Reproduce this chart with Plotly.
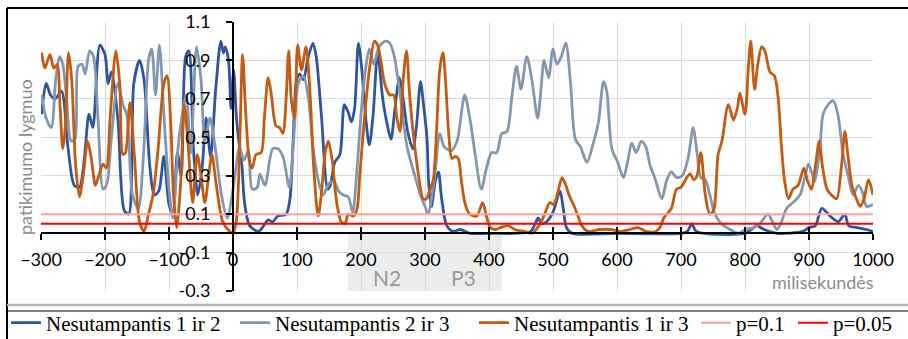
import plotly.graph_objects as go

# ---------------- data ----------------
series_names = ["Nesutampantis 1 ir 2", "Nesutampantis 2 ir 3", "Nesutampantis 1 ir 3"]
series_colors = ["#2F55A0", "#8497B0", "#C55A11"]

ms_12 = [-299, -292, -285, -278, -268, -258, -248, -240, -232, -225, -219, -208, -200, -195, -190,
         -180, -170, -163, -155, -146, -139, -130, -123, -116, -108, -100, -94, -87, -81, -74, -69,
         -62, -55, -48, -42, -35, -27, -19, -15, -12, -7, -3, 1, 5, 10, 14, 18, 26, 40, 48, 55, 62,
         70, 83, 89, 94, 99, 104, 110, 117, 125, 130, 138, 148, 152, 159, 167, 174, 180, 185, 190,
         196, 203, 208, 213, 219, 226, 234, 242, 247, 253, 260, 265, 273, 281, 287, 293, 298, 303,
         306, 310, 316, 321, 326, 334, 344, 355, 370, 400, 440, 465, 472, 477, 482, 490, 500, 511,
         516, 521, 530, 600, 700, 710, 717, 724, 800, 810, 818, 830, 850, 890, 900, 910, 920, 933,
         940, 946, 956, 962, 975, 990, 1000]
val_12 = [0.62, 0.78, 0.72, 0.70, 0.74, 0.45, 0.25, 0.24, 0.40, 0.62, 0.55, 0.98, 0.93, 0.78, 0.84,
          0.60, 0.12, 0.10, 0.78, 0.90, 0.80, 0.35, 0.20, 0.22, 0.40, 0.15, 0.10, 0.42, 0.30, 0.92, 0.95,
          0.45, 0.20, 0.35, 0.60, 0.40, 0.75, 1.00, 0.94, 0.97, 0.90, 0.65, 0.85, 0.62, 0.45, 0.35, 0.16,
          0.04, 0.01, 0.04, 0.07, 0.06, 0.09, 0.10, 0.18, 0.48, 0.79, 0.83, 0.80, 0.91, 0.99, 0.92, 0.62,
          0.23, 0.25, 0.37, 0.41, 0.67, 0.63, 0.58, 0.65, 0.99, 0.79, 0.58, 0.46, 0.62, 0.94, 0.70, 0.55,
          0.49, 0.65, 0.81, 0.72, 0.53, 0.44, 0.57, 0.79, 0.66, 0.50, 0.25, 0.14, 0.27, 0.32, 0.18, 0.04,
          0.01, 0.02, 0.0, 0.0, 0.0, 0.01, 0.05, 0.08, 0.05, 0.06, 0.11, 0.22, 0.13, 0.03, 0.0, 0.0, 0.0,
          0.01, 0.05, 0.01, 0.0, 0.02, 0.04, 0.02, 0.0, 0.01, 0.03, 0.04, 0.13, 0.09, 0.07, 0.06, 0.10,
          0.04, 0.03, 0.02, 0.01]

ms_23 = [-299, -292, -284, -277, -271, -266, -260, -253, -247, -242, -236, -231, -224, -218, -211,
         -203, -197, -190, -180, -172, -166, -157, -148, -140, -132, -127, -121, -115, -108, -100,
         -94, -86, -80, -73, -66, -57, -50, -44, -36, -28, -18, -9, 0, 5, 10, 17, 24, 30, 38, 42, 50,
         62, 70, 78, 88, 95, 102, 110, 118, 125, 133, 141, 150, 158, 165, 172, 180, 187, 193, 200,
         207, 213, 220, 228, 238, 245, 252, 262, 272, 284, 293, 300, 305, 311, 316, 323, 330, 341,
         350, 362, 370, 378, 388, 396, 404, 412, 420, 428, 436, 443, 450, 459, 467, 476, 482, 486,
         493, 500, 506, 513, 520, 527, 535, 543, 553, 563, 571, 579, 584, 592, 601, 610, 617, 623,
         630, 638, 645, 652, 659, 670, 678, 685, 693, 702, 711, 719, 725, 731, 738, 745, 753, 763,
         777, 790, 800, 813, 823, 836, 843, 850, 857, 865, 875, 886, 894, 899, 904, 909, 917, 922,
         930, 938, 945, 953, 961, 969, 977, 983, 990, 1000]
val_23 = [0.72, 0.60, 0.55, 0.80, 0.92, 0.88, 0.70, 0.48, 0.49, 0.87, 0.88, 0.83, 0.95, 0.92, 0.60,
          0.23, 0.26, 0.50, 0.78, 0.67, 0.62, 0.20, 0.13, 0.40, 0.90, 0.96, 0.72, 0.98, 0.62, 0.23,
          0.08, 0.44, 0.60, 0.72, 0.42, 0.97, 0.80, 0.48, 0.60, 0.45, 0.20, 0.08, 0.23, 0.35, 0.45, 0.38,
          0.43, 0.23, 0.24, 0.31, 0.25, 0.44, 0.44, 0.40, 0.24, 0.50, 0.78, 0.82, 0.70, 0.45, 0.28, 0.20,
          0.26, 0.27, 0.22, 0.20, 0.19, 0.11, 0.30, 0.62, 0.85, 0.96, 0.88, 0.97, 1.00, 0.99, 0.92, 0.70,
          0.45, 0.30, 0.20, 0.14, 0.10, 0.20, 0.32, 0.52, 0.45, 0.43, 0.48, 0.72, 0.60, 0.42, 0.23, 0.34,
          0.42, 0.42, 0.52, 0.53, 0.72, 0.87, 0.75, 0.92, 0.80, 0.60, 0.78, 0.90, 0.81, 0.96, 0.88, 0.92,
          0.99, 0.80, 0.49, 0.45, 0.37, 0.47, 0.58, 0.79, 0.74, 0.44, 0.37, 0.29, 0.38, 0.47, 0.42, 0.48,
          0.45, 0.35, 0.29, 0.18, 0.28, 0.32, 0.29, 0.30, 0.39, 0.55, 0.42, 0.29, 0.28, 0.20, 0.10, 0.05,
          0.02, 0.0, 0.02, 0.03, 0.05, 0.10, 0.06, 0.02, 0.06, 0.13, 0.16, 0.20, 0.30, 0.36, 0.32, 0.27,
          0.44, 0.62, 0.67, 0.69, 0.62, 0.42, 0.30, 0.20, 0.25, 0.22, 0.14, 0.15]

ms_13 = [-299, -294, -286, -280, -275, -270, -266, -262, -257, -252, -246, -240, -234, -227, -221,
         -215, -208, -203, -198, -192, -183, -177, -172, -168, -161, -154, -146, -139, -132, -125,
         -117, -108, -103, -97, -93, -88, -82, -76, -70, -63, -56, -50, -44, -38, -33, -26, -16, -5,
         0, 5, 10, 15, 20, 26, 30, 36, 44, 49, 55, 60, 67, 73, 78, 83, 87, 91, 96, 101, 107, 114, 120,
         126, 133, 138, 144, 149, 155, 162, 169, 175, 180, 188, 194, 198, 206, 213, 221, 226, 231, 237,
         245, 251, 256, 261, 266, 271, 276, 283, 290, 297, 302, 308, 313, 318, 323, 328, 332, 337, 342,
         347, 352, 357, 363, 370, 381, 390, 396, 402, 410, 418, 430, 440, 455, 467, 480, 487, 495, 501,
         508, 514, 519, 525, 532, 538, 545, 555, 573, 590, 605, 620, 633, 645, 660, 667, 673, 678, 685,
         693, 700, 709, 714, 720, 725, 731, 738, 745, 751, 758, 764, 774, 782, 788, 792, 800, 805, 809,
         815, 820, 826, 831, 839, 846, 852, 857, 862, 868, 875, 883, 892, 898, 904, 910, 916, 921, 928,
         935, 943, 951, 956, 961, 967, 974, 980, 986, 993, 1000]
val_13 = [0.94, 0.86, 0.93, 0.86, 0.88, 0.65, 0.44, 0.55, 0.94, 0.80, 0.36, 0.19, 0.30, 0.48, 0.38,
          0.25, 0.32, 0.36, 0.34, 0.60, 0.95, 0.78, 0.41, 0.42, 0.68, 0.40, 0.06, 0.01, 0.10, 0.20,
          0.44, 0.78, 0.82, 0.55, 0.20, 0.03, 0.25, 0.67, 0.45, 0.16, 0.41, 0.30, 0.16, 0.30, 0.41, 0.25,
          0.06, 0.01, 0.0, 0.06, 0.40, 0.93, 0.62, 0.37, 0.34, 0.41, 0.42, 0.60, 0.81, 0.72, 0.56, 0.55,
          0.52, 0.70, 0.95, 0.70, 0.60, 0.98, 0.85, 0.97, 0.75, 0.35, 0.09, 0.20, 0.42, 0.48, 0.38, 0.16,
          0.06, 0.05, 0.10, 0.09, 0.13, 0.30, 0.62, 0.85, 1.00, 0.98, 0.90, 0.78, 0.72, 0.72, 0.60, 0.53,
          0.80, 0.95, 0.72, 0.48, 0.30, 0.18, 0.18, 0.23, 0.28, 0.53, 0.85, 0.94, 0.80, 0.52, 0.39, 0.40,
          0.39, 0.27, 0.15, 0.10, 0.09, 0.16, 0.09, 0.03, 0.02, 0.03, 0.04, 0.02, 0.01, 0.0, 0.05, 0.10,
          0.16, 0.15, 0.22, 0.29, 0.26, 0.20, 0.15, 0.10, 0.04, 0.01, 0.02, 0.02, 0.01, 0.02, 0.03, 0.01,
          0.01, 0.03, 0.08, 0.10, 0.13, 0.23, 0.24, 0.29, 0.31, 0.28, 0.30, 0.42, 0.20, 0.10, 0.12, 0.41,
          0.48, 0.67, 0.59, 0.65, 0.73, 0.62, 0.85, 1.00, 0.75, 0.88, 0.97, 0.95, 0.84, 0.82, 0.70, 0.45,
          0.27, 0.18, 0.23, 0.25, 0.34, 0.27, 0.23, 0.35, 0.48, 0.35, 0.23, 0.20, 0.18, 0.36, 0.53, 0.40,
          0.25, 0.18, 0.14, 0.18, 0.28, 0.20]

p_names = ["p=0.1", "p=0.05"]
p_levels = [0.1, 0.05]
p_colors = ["#FF9F9F", "#FF0000"]

windows = ["N2", "P3"]
window_start = [180, 300]
window_end = [300, 420]

x_range = [-300, 1000]
y_range = [-0.3, 1.1]
x_ticks = [-300, -200, -100, 0, 100, 200, 300, 400, 500, 600, 700, 800, 900, 1000]
y_ticks = [-0.3, -0.1, 0.1, 0.3, 0.5, 0.7, 0.9, 1.1]
y_ticktext = ["-0.3", "-0.1", "0.1", "0.3", "0.5", "0.7", "0.9", "1.1"]

# ---------------- figure ----------------
W, H = 908, 339
ML, MR, MT, MB = 41, 35, 22, 48
PW, PH = W - ML - MR, H - MT - MB


def px_to_paper_x(px):
    return (px - ML) / PW


def py_to_paper_y(py):
    return (H - MB - py) / PH


SANS = "Lato"
SERIF = "Liberation Serif"

fig = go.Figure()

all_ms = [ms_12, ms_23, ms_13]
all_val = [val_12, val_23, val_13]
legend_ids = ["legend", "legend2", "legend3", "legend4", "legend5"]
legend_text_px = [48, 277, 516, 738, 835]

for i in range(3):
    fig.add_trace(go.Scatter(
        x=all_ms[i], y=all_val[i], name=series_names[i], mode="lines",
        line=dict(color=series_colors[i], width=2.8, shape="spline", smoothing=0.8),
        legend=legend_ids[i], hoverinfo="skip"))

for j in range(2):
    fig.add_trace(go.Scatter(
        x=x_range, y=[p_levels[j], p_levels[j]], name=p_names[j], mode="lines",
        line=dict(color=p_colors[j], width=2), xaxis="x2",
        legend=legend_ids[3 + j], hoverinfo="skip"))

# shaded windows
for k in range(2):
    fig.add_shape(type="rect", xref="x", yref="y", x0=window_start[k], x1=window_end[k],
                  y0=y_range[0], y1=0, fillcolor="rgba(170,170,170,0.22)",
                  line=dict(width=0), layer="below")
    fig.add_annotation(x=(window_start[k] + window_end[k]) / 2, y=-0.23, xref="x", yref="y",
                       text=windows[k], showarrow=False,
                       font=dict(family=SANS, size=21, color="#9A9A9A"))

# frame lines (document chart border / legend separators)
frame = [
    (7, 8, 908, 8, "black", 2),
    (7, 8, 7, 339, "black", 2),
    (7, 305, 908, 305, "#B4B4B4", 2.5),
    (7, 311, 908, 311, "black", 1.2),
]
for x0, y0, x1, y1, c, w in frame:
    fig.add_shape(type="line", xref="paper", yref="paper",
                  x0=px_to_paper_x(x0), y0=py_to_paper_y(y0),
                  x1=px_to_paper_x(x1), y1=py_to_paper_y(y1),
                  line=dict(color=c, width=w))

x_cross = (0 - y_range[0]) / (y_range[1] - y_range[0])
y_cross = (0 - x_range[0]) / (x_range[1] - x_range[0])

axis_font = dict(family=SANS, size=18, color="black")

fig.update_layout(
    width=W, height=H,
    margin=dict(l=ML, r=MR, t=MT, b=MB, autoexpand=False),
    paper_bgcolor="white", plot_bgcolor="white",
    xaxis=dict(range=x_range, tickvals=x_ticks, showgrid=True, gridcolor="#D9D9D9", gridwidth=1,
               zeroline=False, showline=True, linecolor="black", linewidth=2,
               anchor="free", position=x_cross, ticks="outside", ticklen=6, tickwidth=2,
               tickcolor="black", tickfont=axis_font, ticklabelstandoff=4),
    xaxis2=dict(range=x_range, tickvals=x_ticks, overlaying="x", anchor="free", position=x_cross,
                showgrid=False, zeroline=False, showline=False, ticks="inside", ticklen=6,
                tickwidth=2, tickcolor="black", showticklabels=False),
    yaxis=dict(range=y_range, tickvals=y_ticks, ticktext=y_ticktext, showgrid=True,
               gridcolor="#D9D9D9", gridwidth=1, zeroline=False, showline=True,
               linecolor="black", linewidth=2, anchor="free", position=y_cross,
               ticks="outside", ticklen=6, tickwidth=2, tickcolor="black",
               tickfont=axis_font, ticklabelstandoff=12),
    showlegend=True,
)

for n, lid in enumerate(legend_ids):
    fig.update_layout({lid: dict(
        orientation="h", xref="container", yref="container",
        x=(legend_text_px[n] - 42) / W, xanchor="left",
        y=1 - 323 / H, yanchor="middle", bgcolor="rgba(0,0,0,0)", borderwidth=0,
        itemwidth=30, font=dict(family=SERIF, size=21, color="black"))})

# axis titles
fig.add_annotation(xref="paper", yref="paper", x=px_to_paper_x(25), y=py_to_paper_y(157),
                   xanchor="center", yanchor="middle",
                   text="patikimumo lygmuo", textangle=-90, showarrow=False,
                   font=dict(family=SANS, size=18, color="#8C8C8C"))
fig.add_annotation(xref="paper", yref="paper", x=px_to_paper_x(876), y=py_to_paper_y(282),
                   xanchor="right", yanchor="middle", text="milisekundės", showarrow=False,
                   font=dict(family=SANS, size=18, color="#8C8C8C"))

fig.write_html("out.html")
